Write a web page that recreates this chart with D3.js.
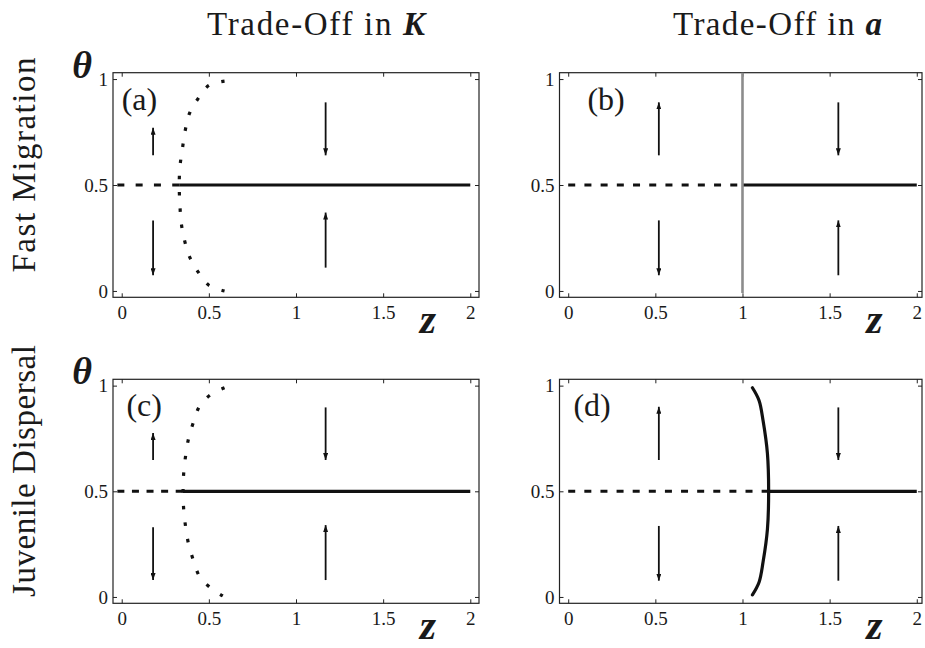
<!DOCTYPE html>
<html>
<head>
<meta charset="utf-8">
<script src="https://cdn.jsdelivr.net/npm/d3@7"></script>
<style>
  body { margin: 0; background: #fff; }
  svg text { font-family: "Liberation Serif", "DejaVu Serif", serif; fill: #1a1a1a; }
</style>
</head>
<body>
<div id="chart"></div>
<script>
// tick labels and titles
const zTicks = [0, 0.5, 1, 1.5, 2];
const thetaTicks = [0, 0.5, 1];
const columnTitles = ["Trade-Off in ", "Trade-Off in "];
const columnSymbols = ["K", "a"];
const rowLabels = ["Fast Migration", "Juvenile Dispersal"];
const panelNames = ["(a)", "(b)", "(c)", "(d)"];

// theta = 0.5 equilibrium, unstable (dashed) then stable (solid), z range
const unstableSpan = [[-0.025, 0.33], [0, 0.97], [-0.025, 0.35], [0, 1.15]];
const stableSpan = [[0.33, 2], [1, 2], [0.35, 2], [1.15, 2]];

// boundary curve in (a): unstable, dotted
const curveAz = [0.59, 0.50, 0.44, 0.39, 0.365, 0.348, 0.334, 0.33, 0.334, 0.342, 0.36, 0.39, 0.438, 0.50, 0.59];
const curveAtheta = [0.99, 0.97, 0.91, 0.84, 0.76, 0.67, 0.585, 0.5, 0.404, 0.318, 0.24, 0.16, 0.09, 0.027, 0.0];
// boundary curve in (c): unstable, dotted
const curveCz = [0.59, 0.515, 0.448, 0.415, 0.385, 0.367, 0.356, 0.352, 0.356, 0.367, 0.385, 0.415, 0.448, 0.515, 0.58];
const curveCtheta = [0.99, 0.96, 0.905, 0.835, 0.755, 0.67, 0.59, 0.5, 0.41, 0.33, 0.245, 0.165, 0.095, 0.04, 0.005];
// boundary curve in (d): stable, solid
const curveDz = [1.057, 1.095, 1.118, 1.143, 1.15, 1.143, 1.118, 1.095, 1.057];
const curveDtheta = [0.99, 0.93, 0.835, 0.68, 0.5, 0.32, 0.165, 0.07, 0.01];
// vertical boundary in (b) at z = 1
const lineBz = [1, 1];
const lineBtheta = [-0.01, 1.03];

// direction arrows: z, theta start, theta end
const arrowsA = [[0.18, 0.64, 0.77], [0.18, 0.333, 0.074], [1.17, 0.89, 0.64], [1.17, 0.11, 0.37]];
const arrowsB = [[0.52, 0.64, 0.89], [0.52, 0.333, 0.074], [1.55, 0.89, 0.64], [1.55, 0.074, 0.333]];
const arrowsC = [[0.18, 0.648, 0.776], [0.18, 0.33, 0.08], [1.17, 0.897, 0.648], [1.17, 0.08, 0.34]];
const arrowsD = [[0.52, 0.648, 0.9], [0.52, 0.336, 0.077], [1.55, 0.897, 0.648], [1.55, 0.077, 0.336]];

const W = 925, H = 648;

const svg = d3.select("#chart")
  .append("svg")
  .attr("width", W)
  .attr("height", H);

const defs = svg.append("defs");
defs.append("marker")
  .attr("id", "head")
  .attr("viewBox", "0 0 10 10")
  .attr("refX", 10).attr("refY", 5)
  .attr("markerUnits", "userSpaceOnUse")
  .attr("markerWidth", 7).attr("markerHeight", 5)
  .attr("orient", "auto")
  .attr("preserveAspectRatio", "none")
  .append("path")
  .attr("d", "M0,0 L10,5 L0,10 Z")
  .attr("fill", "#111");

// dash pattern that puts a dash on both ends of a path
function fitDashes(sel, dash, period) {
  const L = sel.node().getTotalLength();
  const n = Math.max(2, Math.round((L + (period - dash)) / period));
  const gap = (L - n * dash) / (n - 1);
  sel.attr("stroke-dasharray", `${dash},${gap}`);
}

// layout of the 4 boxes
const cols = [{ left: 113, right: 479, zmax: 2.05 }, { left: 559.5, right: 922, zmax: 2.03 }];
const rows = [{ top: 72.7, bottom: 297.3 }, { top: 379.3, bottom: 603.3 }];

const panels = [
  { col: 0, row: 0, curve: [curveAz, curveAtheta], curveStyle: "dot", arrows: arrowsA, labelZ: 0.0 },
  { col: 1, row: 0, curve: [lineBz, lineBtheta], curveStyle: "gray", arrows: arrowsB, labelZ: 0.11 },
  { col: 0, row: 1, curve: [curveCz, curveCtheta], curveStyle: "dot", arrows: arrowsC, labelZ: 0.027 },
  { col: 1, row: 1, curve: [curveDz, curveDtheta], curveStyle: "solid", arrows: arrowsD, labelZ: 0.03 }
];

panels.forEach(function(p, i) {
  const c = cols[p.col], r = rows[p.row];

  const x = d3.scaleLinear().domain([-0.05, c.zmax]).range([c.left, c.right]);
  const y = d3.scaleLinear().domain([-0.03, 1.03]).range([r.bottom, r.top]);

  const g = svg.append("g");

  // inward ticks on all four sides
  const tickFmt = d => d3.format("")(d);
  const xb = g.append("g")
    .attr("transform", `translate(0,${r.bottom})`)
    .call(d3.axisBottom(x).tickValues(zTicks).tickSize(-4).tickPadding(8).tickFormat(tickFmt));
  const xt = g.append("g")
    .attr("transform", `translate(0,${r.top})`)
    .call(d3.axisTop(x).tickValues(zTicks).tickSize(-4).tickFormat(""));
  const yl = g.append("g")
    .attr("transform", `translate(${c.left},0)`)
    .call(d3.axisLeft(y).tickValues(thetaTicks).tickSize(-4).tickPadding(5).tickFormat(tickFmt));
  const yr = g.append("g")
    .attr("transform", `translate(${c.right},0)`)
    .call(d3.axisRight(y).tickValues(thetaTicks).tickSize(-4).tickFormat(""));

  [xb, xt, yl, yr].forEach(function(a) {
    a.attr("font-family", null);
    a.select(".domain").remove();
    a.selectAll(".tick line").attr("stroke", "#222").attr("stroke-width", 1);
    a.selectAll(".tick text")
      .attr("font-size", 19)
      .attr("fill", "#1a1a1a");
  });

  g.append("rect")
    .attr("x", c.left).attr("y", r.top)
    .attr("width", c.right - c.left).attr("height", r.bottom - r.top)
    .attr("fill", "none").attr("stroke", "#222").attr("stroke-width", 1.2);

  // equilibrium theta = 1/2
  const dashed = g.append("line")
    .attr("x1", x(unstableSpan[i][0])).attr("x2", x(unstableSpan[i][1]))
    .attr("y1", y(0.5)).attr("y2", y(0.5))
    .attr("stroke", "#111").attr("stroke-width", 3);
  fitDashes(dashed, 7, 16.5);
  g.append("line")
    .attr("x1", x(stableSpan[i][0])).attr("x2", x(stableSpan[i][1]))
    .attr("y1", y(0.5)).attr("y2", y(0.5))
    .attr("stroke", "#111").attr("stroke-width", 3.2);

  // boundary curve
  const pts = d3.zip(p.curve[0], p.curve[1]);
  const line = d3.line()
    .x(d => x(d[0]))
    .y(d => y(d[1]))
    .curve(d3.curveCatmullRom);
  const path = g.append("path")
    .attr("d", line(pts))
    .attr("fill", "none");
  if (p.curveStyle == "dot") {
    path.attr("stroke", "#111").attr("stroke-width", 3.2);
    fitDashes(path, 3.5, 16.5);
  } else if (p.curveStyle == "gray") {
    path.attr("stroke", "#8c8c8c").attr("stroke-width", 2.6);
  } else {
    path.attr("stroke", "#111").attr("stroke-width", 3.2).attr("stroke-linecap", "round");
  }

  // arrows
  g.selectAll(".arrow")
    .data(p.arrows)
    .enter()
    .append("line")
      .attr("class", "arrow")
      .attr("x1", d => x(d[0])).attr("x2", d => x(d[0]))
      .attr("y1", d => y(d[1])).attr("y2", d => y(d[2]))
      .attr("stroke", "#111").attr("stroke-width", 1.8)
      .attr("marker-end", "url(#head)");

  // panel letter
  g.append("text")
    .attr("x", x(p.labelZ))
    .attr("y", r.top + 37)
    .attr("font-size", 32)
    .text(panelNames[i]);

  // z axis label
  g.append("text")
    .attr("x", x(1.71))
    .attr("y", r.bottom + 36)
    .attr("font-size", 42)
    .attr("font-weight", "bold")
    .attr("font-style", "italic")
    .text("z");

  // theta label on the left column
  if (p.col == 0) {
    g.append("text")
      .attr("x", c.left - 21)
      .attr("y", r.top + 5)
      .attr("text-anchor", "end")
      .attr("font-size", 38)
      .attr("font-weight", "bold")
      .attr("font-style", "italic")
      .text("\u03b8");
  }
});

// column titles
const titleX = [207, 673];
const titleLengths = [218, 209];
columnTitles.forEach(function(t, j) {
  const tt = svg.append("text")
    .attr("x", titleX[j])
    .attr("y", 35)
    .attr("font-size", 33)
    .attr("textLength", titleLengths[j])
    .attr("lengthAdjust", "spacing");
  tt.append("tspan").text(t);
  tt.append("tspan")
    .attr("font-weight", "bold")
    .attr("font-style", "italic")
    .text(columnSymbols[j]);
});

// row labels
const rowCenters = [165, 471];
const rowLengths = [215, 252];
rowLabels.forEach(function(t, j) {
  svg.append("text")
    .attr("transform", `translate(35,${rowCenters[j]}) rotate(-90)`)
    .attr("text-anchor", "middle")
    .attr("font-size", 33)
    .attr("textLength", rowLengths[j])
    .attr("lengthAdjust", "spacing")
    .text(t);
});
</script>
</body>
</html>
